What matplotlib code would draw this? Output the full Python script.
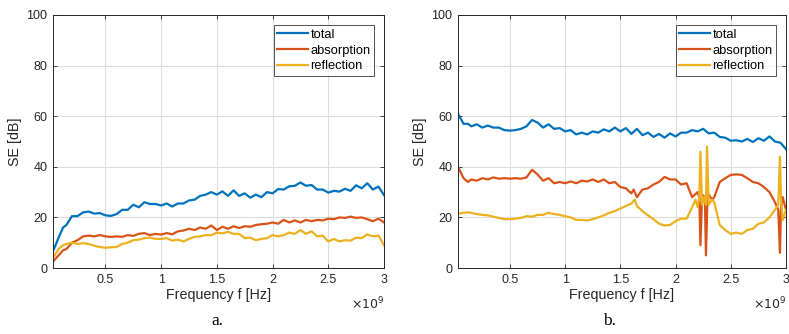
import matplotlib
matplotlib.use('Agg')
import matplotlib.pyplot as plt
import numpy as np
from matplotlib.ticker import FuncFormatter

# frequency in GHz, SE in dB
freq_a = [0.03, 0.08, 0.12, 0.15, 0.2, 0.25, 0.3, 0.35, 0.4, 0.45, 0.5, 0.55, 0.6, 0.65, 0.7,
          0.75, 0.8, 0.85, 0.9, 0.95, 1.0, 1.05, 1.1, 1.15, 1.2, 1.25, 1.3, 1.35, 1.4, 1.45,
          1.5, 1.55, 1.6, 1.65, 1.7, 1.75, 1.8, 1.85, 1.9, 1.95, 2.0, 2.05, 2.1, 2.15, 2.2,
          2.25, 2.3, 2.35, 2.4, 2.45, 2.5, 2.55, 2.6, 2.65, 2.7, 2.75, 2.8, 2.85, 2.9, 2.95, 3.0]
total_a = [6.6, 12, 16, 17, 20.5, 20.5, 22, 22.3, 21.5, 21.7, 20.8, 20.6, 21.3, 23, 23,
           25, 24, 26, 25.3, 25.3, 24.7, 25.5, 24.3, 25.5, 25.5, 26.7, 27, 28.5, 29, 30,
           29, 30.3, 28.5, 30.7, 28.5, 29.5, 27.8, 29, 28, 30, 29.5, 31.2, 31, 32.3, 32.5,
           33.8, 32.5, 32.8, 31, 31, 29.8, 30.5, 30.2, 31.3, 30.5, 32.7, 31.5, 33.5, 31, 32.2, 28.8]
absorption_a = [2.6, 5, 7, 7.5, 10, 11, 12.5, 12.8, 12.5, 13, 12.5, 12.3, 12.5, 12.3, 13,
                12.7, 13.5, 13.8, 13, 13.5, 13.2, 13.8, 13.3, 14.5, 14.8, 15.5, 15, 16, 15.5, 16.8,
                15, 16.3, 15.5, 16.5, 15.8, 16.5, 16.3, 17, 17.3, 17.5, 18, 17.5, 19, 18, 18.8,
                18, 19, 18.5, 19, 18.8, 19.5, 19.3, 20, 19.8, 20.3, 19.8, 20, 19.3, 18.5, 19.5, 18]
reflection_a = [4, 7.5, 9, 9.5, 10, 9.5, 9.8, 9.5, 8.8, 8.3, 8.0, 8.2, 8.3, 9.5, 10,
                11, 11.2, 11.8, 12, 11.5, 11.5, 11.8, 10.8, 11.2, 10.5, 11.5, 12.3, 12.5, 13, 13,
                14, 13.7, 14.3, 13.5, 13.5, 11.8, 12, 11, 11.5, 11.8, 13, 12.5, 13, 14, 13.5,
                15, 13.5, 14.5, 12.5, 12.8, 10.5, 11.5, 10.5, 11, 10.8, 12, 11.8, 13.3, 12.5, 12.8, 9]

freq_b_tot = freq_a
total_b = [61, 57, 57, 56, 56.8, 55.5, 56.3, 55.5, 55.5, 54.5, 54.3, 54.5, 55, 56, 58.5,
           57.5, 55.5, 56.8, 55, 55.3, 54, 54.5, 52.8, 53.5, 52.8, 54, 53.5, 54.8, 54, 55.5,
           54, 55.3, 53, 55, 52.5, 53.5, 51.8, 53, 51.5, 53.2, 52, 53.5, 53.5, 54.5, 54,
           55, 53.2, 53.5, 51.8, 51.5, 50.3, 50.5, 50, 51, 49.8, 51.3, 50.3, 52, 50, 49.5, 47]

freq_b_abs = [0.03, 0.08, 0.12, 0.15, 0.2, 0.25, 0.3, 0.35, 0.4, 0.45, 0.5, 0.55, 0.6, 0.65, 0.7,
              0.75, 0.8, 0.85, 0.9, 0.95, 1.0, 1.05, 1.1, 1.15, 1.2, 1.25, 1.3, 1.35, 1.4, 1.45,
              1.5, 1.55, 1.6, 1.62, 1.65, 1.7, 1.75, 1.8, 1.85, 1.9, 1.95, 2.0, 2.05, 2.1, 2.15,
              2.2, 2.215, 2.225, 2.24, 2.265, 2.275, 2.29, 2.3, 2.33, 2.35, 2.4, 2.45, 2.5, 2.55,
              2.6, 2.65, 2.7, 2.75, 2.8, 2.85, 2.9, 2.93, 2.945, 2.955, 2.97, 3.0]
absorption_b = [40, 35.5, 34, 35, 34.5, 35.5, 35, 35.8, 35.3, 35.5, 35.3, 35.5, 35.3, 35.8, 38.8,
                37, 34.5, 35.5, 33.5, 34, 33.5, 34.2, 33.5, 34.5, 34.2, 35, 34, 35, 33.5, 34,
                32, 31.5, 29.5, 31, 28, 31, 31.5, 33, 34, 36, 35, 35, 33, 33.5, 28,
                30, 28, 9, 29, 28, 5, 29, 29, 27, 28, 34, 35.5, 36.8, 37,
                36.8, 35.5, 34, 33.5, 32, 30, 26, 23, 6, 24, 28, 23]

freq_b_ref = [0.03, 0.08, 0.12, 0.15, 0.2, 0.25, 0.3, 0.35, 0.4, 0.45, 0.5, 0.55, 0.6, 0.65, 0.7,
              0.75, 0.8, 0.85, 0.9, 0.95, 1.0, 1.05, 1.1, 1.15, 1.2, 1.25, 1.3, 1.35, 1.4, 1.45,
              1.5, 1.55, 1.6, 1.63, 1.65, 1.7, 1.75, 1.8, 1.85, 1.9, 1.95, 2.0, 2.05, 2.1, 2.15,
              2.18, 2.2, 2.215, 2.225, 2.24, 2.26, 2.275, 2.285, 2.3, 2.33, 2.35, 2.4, 2.45, 2.5,
              2.55, 2.6, 2.65, 2.7, 2.75, 2.8, 2.85, 2.9, 2.93, 2.945, 2.955, 2.97, 3.0]
reflection_b = [21.5, 21.8, 22, 21.8, 21.3, 21, 20.8, 20.3, 19.8, 19.3, 19.3, 19.5, 19.8, 20.5, 20.3,
                21, 21, 21.8, 21.3, 21, 20.5, 20, 19, 19, 18.8, 19.3, 20, 20.8, 21.8, 22.5,
                23.5, 24.5, 25.5, 27, 24.5, 22.5, 20.8, 19.3, 17.5, 16.8, 17, 18.5, 19.5, 19.5, 24,
                27, 24, 28, 46, 25, 28, 25, 48, 25, 27, 26, 17, 15, 13.5,
                14, 13.5, 15, 15.5, 17.5, 18, 20, 23, 25, 44, 27, 19, 23]

colors = ['#0072BD', '#D95319', '#EDB120']
labels = ['total', 'absorption', 'reflection']
ink = '#262626'

plt.rcParams['font.family'] = ['Liberation Sans', 'DejaVu Sans']

fig = plt.figure(figsize=(7.89, 3.34), dpi=100)
ax_a = fig.add_axes([0.0672, 0.1976, 0.4195, 0.7575])
ax_b = fig.add_axes([0.5805, 0.1976, 0.4157, 0.7575])

panels = [
    (ax_a, [(freq_a, total_a), (freq_a, absorption_a), (freq_a, reflection_a)], 'a.', 0.275),
    (ax_b, [(freq_b_tot, total_b), (freq_b_abs, absorption_b), (freq_b_ref, reflection_b)], 'b.', 0.773),
]

for ax, series, tag, tx in panels:
    for i, (f, v) in enumerate(series):
        ax.plot(np.array(f) * 1e9, v, color=colors[i], lw=1.6, label=labels[i])
    ax.set_xlim(0.03e9, 3e9)
    ax.set_ylim(0, 100)
    ax.set_xticks(np.arange(0.5, 3.01, 0.5) * 1e9)
    ax.set_yticks(np.arange(0, 101, 20))
    ax.xaxis.set_major_formatter(FuncFormatter(lambda v, p: '%g' % (v / 1e9)))
    ax.grid(True, color='#dcdcdc', lw=0.8)
    ax.set_axisbelow(True)
    ax.tick_params(direction='in', length=3, width=0.6, colors=ink, labelsize=9,
                   top=True, right=True, pad=4)
    for s in ax.spines.values():
        s.set_color(ink)
        s.set_linewidth(0.7)
    ax.set_xlabel('Frequency f [Hz]', fontsize=10.3, color=ink, labelpad=2)
    ax.set_ylabel('SE [dB]', fontsize=10.3, color=ink, labelpad=3)
    ax.text(1.0, -0.11, r'$\times10^{9}$', transform=ax.transAxes, ha='right', va='top',
            fontsize=9, color=ink)
    leg = ax.legend(loc='upper right', fontsize=9.3, frameon=True, fancybox=False,
                    edgecolor=ink, handlelength=2.4, handletextpad=0.15, borderpad=0.3,
                    labelspacing=0.3, borderaxespad=0.75)
    leg.get_frame().set_linewidth(0.7)
    fig.text(tx, 0.04, tag, family='Liberation Serif', fontsize=12.5, ha='center', va='center')

fig.savefig('out.png', dpi=100)
